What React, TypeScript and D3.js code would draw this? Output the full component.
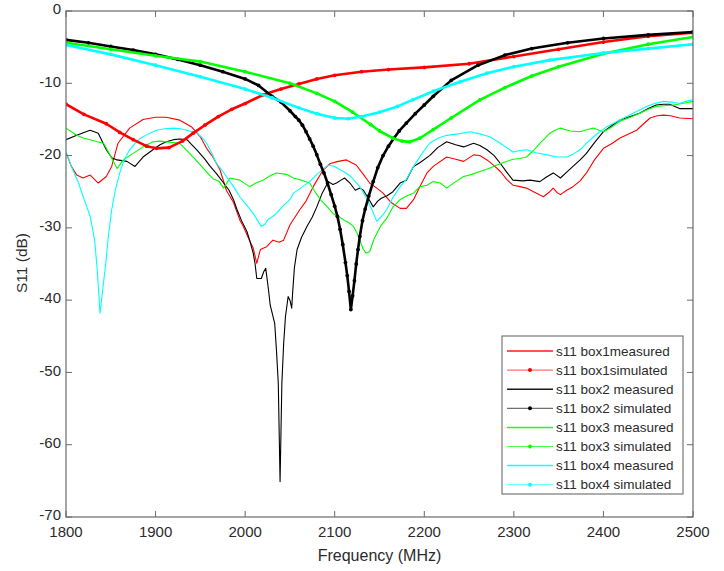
import React from "react";
import * as d3 from "d3";

type P = [number, number];

const xTicks = [1800, 1900, 2000, 2100, 2200, 2300, 2400, 2500];
const yTicks = [0, -10, -20, -30, -40, -50, -60, -70];

const box1Measured: P[] = [
  [1800, -19.6], [1806, -21.5], [1812, -22.7], [1819, -23.1], [1827, -22.7], [1836, -23.8], [1845, -22.9],
  [1851, -21.5], [1858, -18.3], [1871, -16.2], [1886, -15.0], [1900, -14.7], [1912, -14.7], [1927, -15.1],
  [1940, -16.0], [1950, -17.4], [1957, -19.0], [1964, -20.2], [1972, -22.0], [1979, -24.8], [1987, -26.5],
  [1994, -28.9], [1998, -29.8], [2005, -31.8], [2009, -32.8], [2013, -34.9], [2017, -33.0], [2024, -32.6],
  [2031, -31.7], [2038, -32.0], [2043, -31.7], [2050, -29.6], [2061, -27.5], [2068, -26.3], [2076, -24.3],
  [2087, -22.0], [2095, -21.1], [2104, -20.8], [2113, -20.6], [2124, -21.3], [2132, -22.6], [2139, -23.8],
  [2147, -24.5], [2154, -25.2], [2163, -26.5], [2173, -27.3], [2180, -27.3], [2188, -26.1], [2195, -24.3],
  [2203, -22.4], [2210, -21.5], [2225, -20.2], [2235, -20.5], [2244, -20.8], [2255, -19.9], [2262, -20.0],
  [2270, -20.6], [2278, -21.4], [2285, -22.2], [2292, -23.3], [2299, -24.1], [2307, -24.3], [2314, -24.5],
  [2322, -25.0], [2333, -25.7], [2340, -25.0], [2344, -24.5], [2348, -25.1], [2352, -25.4], [2359, -24.8],
  [2366, -24.3], [2374, -23.5], [2381, -22.4], [2390, -20.6], [2400, -19.0], [2410, -18.3], [2418, -17.6],
  [2428, -17.0], [2437, -16.5], [2445, -15.6], [2452, -14.8], [2460, -14.5], [2467, -14.4], [2475, -14.5],
  [2485, -14.8], [2500, -14.9],
];

const box1Simulated: P[] = [
  [1800, -12.9], [1820, -14.3], [1845, -15.6], [1860, -16.8], [1875, -17.8], [1890, -18.7], [1901, -19.0],
  [1915, -18.9], [1930, -18.0], [1942, -16.9], [1955, -15.8], [1970, -14.6], [1985, -13.6], [2000, -12.8],
  [2020, -11.6], [2040, -10.8], [2060, -10.1], [2080, -9.4], [2100, -8.9], [2130, -8.4], [2160, -8.1],
  [2200, -7.8], [2250, -7.3], [2300, -6.3], [2350, -5.3], [2400, -4.3], [2450, -3.5], [2500, -3.0],
];

const box2Measured: P[] = [
  [1800, -17.8], [1812, -17.2], [1820, -16.8], [1827, -16.5], [1836, -16.9], [1845, -19.2], [1851, -20.3],
  [1857, -20.6], [1868, -20.8], [1877, -21.5], [1886, -20.2], [1897, -19.2], [1905, -18.5], [1912, -18.1],
  [1920, -17.8], [1927, -17.7], [1935, -17.8], [1946, -19.2], [1955, -20.5], [1961, -21.5], [1968, -22.5],
  [1976, -23.8], [1982, -24.8], [1987, -26.1], [1991, -27.5], [1996, -29.0], [2002, -30.5], [2005, -31.7],
  [2009, -33.5], [2011, -34.9], [2013, -37.0], [2018, -37.0], [2021, -36.0], [2023, -35.6], [2026, -38.5],
  [2028, -40.7], [2033, -43.2], [2035, -47.0], [2037, -51.5], [2039, -65.1], [2041, -51.5], [2043, -46.0],
  [2045, -42.3], [2048, -39.5], [2050, -40.0], [2052, -41.1], [2053, -39.0], [2055, -35.5], [2058, -33.0],
  [2063, -31.3], [2069, -29.8], [2075, -28.5], [2080, -27.1], [2086, -25.2], [2093, -23.6], [2098, -24.0],
  [2102, -23.8], [2107, -23.4], [2111, -23.1], [2117, -23.8], [2123, -24.8], [2128, -24.5], [2132, -24.8],
  [2138, -26.0], [2143, -27.1], [2148, -26.3], [2152, -25.9], [2158, -25.6], [2165, -25.0], [2173, -23.8],
  [2180, -23.4], [2188, -21.5], [2195, -21.0], [2206, -20.0], [2215, -18.9], [2225, -18.1], [2235, -18.5],
  [2244, -18.8], [2255, -18.3], [2262, -18.6], [2270, -19.2], [2278, -20.0], [2285, -21.1], [2292, -22.3],
  [2299, -23.4], [2310, -23.5], [2318, -23.4], [2329, -23.6], [2336, -23.0], [2344, -22.4], [2352, -23.1],
  [2359, -22.3], [2366, -21.5], [2374, -20.6], [2381, -19.7], [2390, -18.2], [2400, -16.7], [2410, -15.8],
  [2418, -15.1], [2430, -14.6], [2441, -14.1], [2450, -13.5], [2459, -13.0], [2467, -12.9], [2474, -12.9],
  [2485, -13.5], [2500, -13.5],
];

const box2Simulated: P[] = [
  [1800, -4.0], [1825, -4.4], [1850, -4.9], [1875, -5.4], [1900, -6.0], [1925, -6.7], [1950, -7.5],
  [1975, -8.4], [2000, -9.4], [2015, -10.3], [2030, -11.8], [2040, -12.6], [2050, -13.8], [2056, -14.6],
  [2060, -15.1], [2064, -15.8], [2068, -16.7], [2072, -17.7], [2076, -18.7], [2080, -19.9], [2084, -21.2],
  [2088, -22.4], [2092, -23.8], [2096, -25.4], [2100, -27.0], [2103, -28.4], [2106, -30.2], [2109, -32.3],
  [2112, -34.8], [2114, -36.6], [2116, -38.8], [2118, -41.3], [2120, -39.4], [2122, -37.3], [2124, -35.0],
  [2126, -33.0], [2128, -31.2], [2131, -29.0], [2134, -27.4], [2138, -25.6], [2143, -23.6], [2148, -21.7],
  [2154, -20.0], [2160, -18.7], [2166, -17.6], [2172, -16.6], [2180, -15.5], [2190, -14.2], [2200, -13.0],
  [2210, -11.8], [2230, -9.6], [2260, -7.5], [2290, -6.1], [2320, -5.2], [2360, -4.4], [2400, -3.8],
  [2450, -3.3], [2500, -2.9],
];

const box3Measured: P[] = [
  [1800, -16.2], [1812, -17.2], [1820, -17.6], [1827, -17.8], [1835, -18.1], [1842, -18.3], [1849, -19.9],
  [1857, -21.8], [1864, -20.6], [1875, -19.7], [1886, -18.8], [1897, -18.1], [1905, -18.0], [1912, -18.1],
  [1920, -18.2], [1927, -18.3], [1938, -19.7], [1950, -21.3], [1957, -22.3], [1964, -23.2], [1971, -23.6],
  [1976, -24.5], [1983, -23.1], [1994, -23.4], [2005, -24.3], [2012, -23.8], [2020, -23.4], [2028, -22.8],
  [2035, -22.4], [2046, -22.6], [2054, -23.1], [2063, -23.4], [2072, -23.8], [2078, -25.0], [2084, -26.1],
  [2091, -27.0], [2098, -28.0], [2105, -28.5], [2110, -28.9], [2116, -29.3], [2121, -29.8], [2126, -31.0],
  [2132, -33.0], [2135, -33.5], [2139, -33.3], [2144, -31.5], [2151, -29.8], [2158, -28.7], [2165, -27.1],
  [2173, -26.1], [2180, -25.6], [2188, -25.2], [2195, -24.3], [2203, -24.1], [2210, -23.6], [2218, -23.8],
  [2225, -24.5], [2235, -23.6], [2244, -22.9], [2253, -22.6], [2262, -22.2], [2272, -21.8], [2281, -21.3],
  [2290, -20.9], [2299, -20.5], [2307, -20.4], [2314, -20.2], [2322, -19.3], [2329, -18.3], [2335, -17.6],
  [2340, -16.9], [2346, -16.5], [2352, -16.2], [2363, -16.6], [2374, -16.7], [2382, -16.4], [2389, -16.2],
  [2395, -16.5], [2400, -16.7], [2410, -16.0], [2418, -15.3], [2430, -14.7], [2441, -14.1], [2450, -13.6],
  [2459, -13.2], [2468, -13.1], [2478, -13.0], [2488, -12.8], [2500, -12.5],
];

const box3Simulated: P[] = [
  [1800, -4.4], [1850, -5.3], [1900, -6.2], [1950, -7.0], [2000, -8.4], [2050, -10.0], [2080, -11.4],
  [2100, -12.5], [2120, -14.0], [2140, -15.7], [2150, -16.6], [2165, -17.6], [2175, -18.0], [2184, -18.1],
  [2195, -17.6], [2210, -16.4], [2230, -14.8], [2262, -12.3], [2290, -10.6], [2320, -9.0], [2350, -7.7],
  [2400, -5.9], [2450, -4.6], [2500, -3.6],
];

const box4Measured: P[] = [
  [1800, -19.5], [1806, -21.5], [1814, -23.8], [1820, -26.0], [1827, -28.4], [1832, -31.7], [1835, -36.0],
  [1838, -41.8], [1841, -38.5], [1844, -35.4], [1847, -31.5], [1851, -27.5], [1855, -24.8], [1860, -22.4],
  [1865, -20.6], [1871, -19.2], [1877, -18.3], [1883, -17.6], [1892, -17.0], [1901, -16.5], [1910, -16.3],
  [1920, -16.2], [1928, -16.3], [1935, -16.5], [1946, -16.9], [1952, -17.5], [1957, -18.3], [1963, -19.7],
  [1968, -21.1], [1974, -22.0], [1979, -22.9], [1987, -24.3], [1994, -25.7], [2002, -26.9], [2009, -28.0],
  [2014, -29.0], [2018, -29.8], [2022, -29.5], [2026, -28.8], [2031, -28.4], [2035, -28.0], [2042, -27.0],
  [2050, -26.1], [2054, -25.2], [2063, -24.4], [2072, -23.6], [2080, -22.6], [2087, -21.9], [2093, -21.3],
  [2100, -21.5], [2105, -21.9], [2110, -22.2], [2118, -22.9], [2128, -24.3], [2135, -25.8], [2142, -27.6],
  [2147, -29.1], [2153, -28.3], [2158, -27.5], [2165, -25.8], [2173, -24.3], [2180, -23.3], [2188, -21.5],
  [2197, -19.8], [2206, -18.3], [2215, -17.6], [2225, -17.2], [2238, -17.0], [2251, -16.7], [2262, -17.0],
  [2273, -17.4], [2285, -18.3], [2299, -19.5], [2307, -19.3], [2314, -19.2], [2325, -19.6], [2337, -19.9],
  [2348, -20.2], [2359, -20.2], [2366, -19.8], [2374, -19.2], [2381, -18.3], [2389, -17.4], [2396, -16.7],
  [2404, -16.0], [2415, -15.3], [2426, -14.6], [2437, -13.9], [2448, -13.2], [2457, -12.8], [2467, -12.5],
  [2476, -12.6], [2485, -12.8], [2492, -12.5], [2500, -12.3],
];

const box4Simulated: P[] = [
  [1800, -4.7], [1850, -6.0], [1900, -7.5], [1950, -9.1], [2000, -10.8], [2030, -12.0], [2060, -13.4],
  [2080, -14.2], [2100, -14.8], [2115, -14.9], [2130, -14.6], [2150, -14.0], [2170, -13.2], [2187, -12.3],
  [2210, -11.1], [2240, -9.8], [2270, -8.6], [2300, -7.7], [2340, -6.8], [2400, -5.8], [2450, -5.2],
  [2500, -4.6],
];

const seriesNames = [
  "s11 box1measured",
  "s11 box1simulated",
  "s11 box2 measured",
  "s11 box2 simulated",
  "s11 box3 measured",
  "s11 box3 simulated",
  "s11 box4 measured",
  "s11 box4 simulated",
];
const seriesColors = ["#ff0000", "#ff0000", "#000000", "#000000", "#00ff00", "#00ff00", "#00ffff", "#00ffff"];
const seriesData = [box1Measured, box1Simulated, box2Measured, box2Simulated, box3Measured, box3Simulated, box4Measured, box4Simulated];
const seriesIsSim = [false, true, false, true, false, true, false, true];

export default function App() {
  const W = 724, H = 571;
  const L = 66, R = 693, T = 11, B = 517;
  const x = d3.scaleLinear().domain([1800, 2500]).range([L, R]);
  const y = d3.scaleLinear().domain([-70, 0]).range([B, T]);
  const line = d3.line<P>().x(d => x(d[0])).y(d => y(d[1]));
  const axisColor = "#6a6a6a";
  const textColor = "#2b2b2b";
  const order = [0, 2, 4, 6, 1, 3, 5, 7];
  const legX = 502, legY = 336, legW = 181, legH = 158;
  const rowY = (i: number) => 351 + i * 19.1;

  return (
    <svg width={W} height={H} style={{ position: "fixed", left: 0, top: 0, background: "#fff" }}
      fontFamily="'Liberation Sans', Arial, sans-serif">
      <rect x={0} y={0} width={W} height={H} fill="#fff" />
      <defs>
        <clipPath id="plotClip">
          <rect x={L} y={T - 2} width={R - L} height={B - T + 2} />
        </clipPath>
      </defs>
      <g clipPath="url(#plotClip)">
        {order.map(i => (
          <g key={i}>
            <path d={line(seriesData[i]) || ""} fill="none" stroke={seriesColors[i]}
              strokeWidth={seriesIsSim[i] ? 2.6 : 1.1} strokeLinejoin="round" />
            {seriesIsSim[i] && seriesData[i].map((d, k) => (
              <circle key={k} cx={x(d[0])} cy={y(d[1])} r={1.9} fill={seriesColors[i]} />
            ))}
          </g>
        ))}
      </g>
      {/* box */}
      <rect x={L} y={T} width={R - L} height={B - T} fill="none" stroke={axisColor} strokeWidth={1.2} />
      {xTicks.map(t => (
        <g key={"x" + t}>
          <line x1={x(t)} x2={x(t)} y1={B} y2={B - 6} stroke={axisColor} />
          <line x1={x(t)} x2={x(t)} y1={T} y2={T + 6} stroke={axisColor} />
          <text x={x(t)} y={537} textAnchor="middle" fontSize={15} fill={textColor}>{t}</text>
        </g>
      ))}
      {yTicks.map(t => (
        <g key={"y" + t}>
          <line x1={L} x2={L + 6} y1={y(t)} y2={y(t)} stroke={axisColor} />
          <line x1={R} x2={R - 6} y1={y(t)} y2={y(t)} stroke={axisColor} />
          <text x={61} y={y(t) - 2} dy="0.35em" textAnchor="end" fontSize={15} fill={textColor}>{t}</text>
        </g>
      ))}
      <text x={(L + R) / 2} y={561} textAnchor="middle" fontSize={16} fill={textColor}>Frequency (MHz)</text>
      <text transform={`translate(27, ${263}) rotate(-90)`} textAnchor="middle" fontSize={15.5} fill={textColor}>S11 (dB)</text>

      {/* legend */}
      <rect x={legX} y={legY} width={legW} height={legH} fill="#fff" stroke="#777" strokeWidth={1.2} />
      {seriesNames.map((name, i) => (
        <g key={name}>
          <line x1={507} x2={553} y1={rowY(i)} y2={rowY(i)} stroke={seriesColors[i]} strokeWidth={seriesIsSim[i] ? 1 : 1.5}
            strokeOpacity={seriesIsSim[i] ? 0.7 : 0.9} />
          {seriesIsSim[i] && <circle cx={530} cy={rowY(i)} r={2} fill={seriesColors[i]} />}
          <text x={556} y={rowY(i)} dy="0.35em" fontSize={13.5} fill={textColor}>{name}</text>
        </g>
      ))}
    </svg>
  );
}
